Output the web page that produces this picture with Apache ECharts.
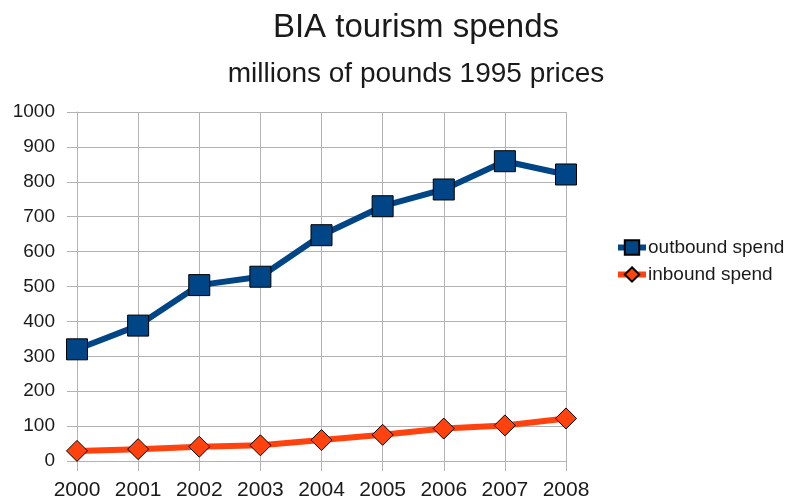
<!DOCTYPE html>
<html>
<head>
<meta charset="utf-8">
<script src="https://cdn.jsdelivr.net/npm/echarts@6/dist/echarts.min.js"></script>
<style>
html,body{margin:0;padding:0;background:#fff;}
#chart{width:801px;height:502px;}
</style>
</head>
<body>
<div id="chart"></div>
<script>
// Yearly tourism spend, millions of pounds at 1995 prices
const years = ['2000','2001','2002','2003','2004','2005','2006','2007','2008'];
const outboundSpend = [320, 388, 504, 528, 647, 730, 778, 859, 821];
const inboundSpend = [29, 34, 41, 45, 60, 75, 93, 102, 122];

const FONT = '"Liberation Sans", Arial, sans-serif';
const TEXT = '#1a1a1a';
const GRID = '#b3b3b3';
const chart = echarts.init(document.getElementById('chart'), null, {renderer: 'canvas'});

chart.setOption({
  animation: false,
  backgroundColor: '#ffffff',
  title: [
    {text: 'BIA tourism spends', left: 411, top: 6, textAlign: 'center',
     textStyle: {fontFamily: FONT, fontSize: 33, fontWeight: 'normal', color: TEXT}},
    {text: 'millions of pounds 1995 prices', left: 411, top: 55, textAlign: 'center',
     textStyle: {fontFamily: FONT, fontSize: 28, fontWeight: 'normal', color: TEXT}}
  ],
  legend: {
    orient: 'vertical',
    left: 610,
    top: 233,
    itemWidth: 28,
    itemHeight: 18,
    itemGap: 8,
    textStyle: {fontFamily: FONT, fontSize: 19, color: TEXT, padding: [0, 0, 0, -3]},
    data: [
      {name: 'outbound spend', lineStyle: {width: 6}},
      {name: 'inbound spend', lineStyle: {width: 6}}
    ]
  },
  grid: {left: 77, right: 235, top: 112, bottom: 41, containLabel: false},
  xAxis: {
    type: 'category',
    data: years,
    boundaryGap: false,
    axisLine: {lineStyle: {color: GRID}},
    axisTick: {show: true, length: 10, lineStyle: {color: GRID}},
    splitLine: {show: true, lineStyle: {color: GRID}},
    axisLabel: {fontFamily: FONT, fontSize: 21, color: TEXT, margin: 19}
  },
  yAxis: {
    type: 'value',
    min: 0,
    max: 1000,
    interval: 100,
    axisLine: {show: true, lineStyle: {color: GRID}},
    axisTick: {show: true, length: 10, lineStyle: {color: GRID}},
    splitLine: {show: true, lineStyle: {color: GRID}},
    axisLabel: {fontFamily: FONT, fontSize: 19, color: TEXT, margin: 22,
                formatter: function (v) { return String(v); }}
  },
  series: [
    {
      name: 'outbound spend',
      type: 'line',
      data: outboundSpend,
      symbol: 'rect',
      symbolSize: 21,
      lineStyle: {color: '#004586', width: 6},
      itemStyle: {color: '#004586', borderColor: '#000', borderWidth: 1},
      z: 3
    },
    {
      name: 'inbound spend',
      type: 'line',
      data: inboundSpend,
      symbol: 'diamond',
      symbolSize: [21, 21],
      lineStyle: {color: '#ff420e', width: 6},
      itemStyle: {color: '#ff420e', borderColor: '#000', borderWidth: 1},
      z: 2
    }
  ]
});
</script>
</body>
</html>
